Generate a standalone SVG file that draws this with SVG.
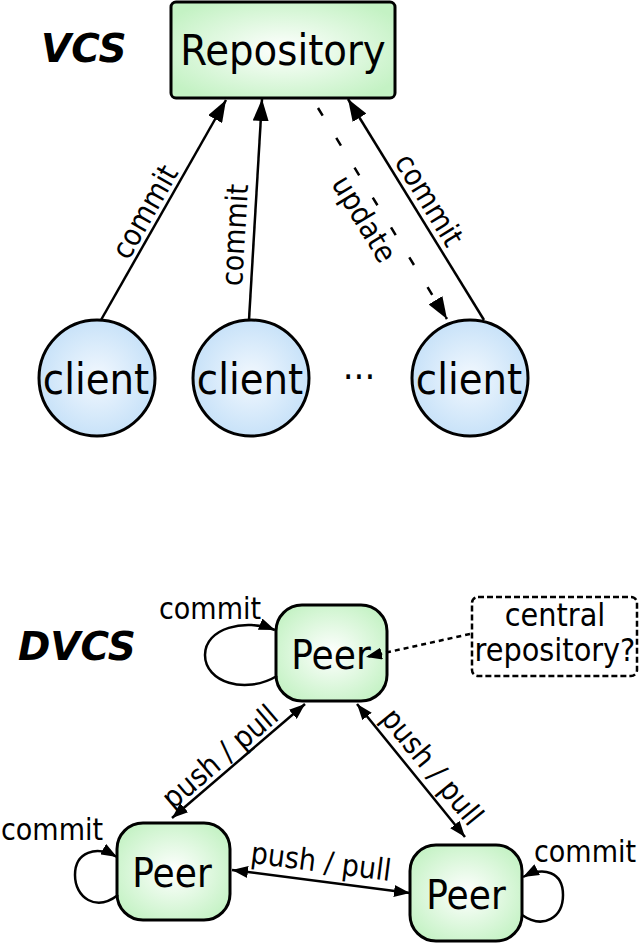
<svg xmlns="http://www.w3.org/2000/svg" width="640" height="944" viewBox="0 0 640 944">
<defs>
<radialGradient id="gGreen" cx="50%" cy="50%" r="60%">
<stop offset="0" stop-color="#ffffff"/>
<stop offset="1" stop-color="#c4f2c4"/>
</radialGradient>
<radialGradient id="gBlue" cx="50%" cy="50%" r="55%">
<stop offset="0" stop-color="#f2f8fe"/>
<stop offset="1" stop-color="#c4e0f8"/>
</radialGradient>
<marker id="arr" markerUnits="userSpaceOnUse" markerWidth="24" markerHeight="16" refX="22" refY="8" orient="auto-start-reverse">
<path d="M0,0 L22,8 L0,16 z" fill="#000"/>
</marker>
<marker id="arrS" markerUnits="userSpaceOnUse" markerWidth="18" markerHeight="12" refX="16" refY="6" orient="auto-start-reverse">
<path d="M0,0 L16,6 L0,12 z" fill="#000"/>
</marker>
</defs>
<style>
text{font-family:"DejaVu Sans Condensed","DejaVu Sans","Liberation Sans",sans-serif;font-stretch:condensed;fill:#000}
.node{stroke:#000;stroke-width:3}
.big{font-size:40px;text-anchor:middle}
.lbl{font-size:30px;text-anchor:middle}
.title{font-family:"DejaVu Sans","Liberation Sans",sans-serif;font-stretch:normal;font-size:39px;font-weight:bold;font-style:italic}
.edge{fill:none;stroke:#000;stroke-width:2.5}
</style>

<text class="title" x="41" y="62">VCS</text>
<text class="title" x="18" y="660">DVCS</text>

<g id="repository">
<rect class="node" x="171" y="2" width="224" height="96" rx="5" fill="url(#gGreen)"/>
<text class="big" x="283" y="65" style="font-size:43px">Repository</text>
</g>
<g id="client1">
<circle class="node" cx="97" cy="378" r="58" fill="url(#gBlue)"/>
<text class="big" x="96" y="394" style="font-size:43px">client</text>
</g>
<g id="client2">
<circle class="node" cx="251" cy="378" r="58" fill="url(#gBlue)"/>
<text class="big" x="250" y="394" style="font-size:43px">client</text>
</g>
<g id="ellipsis">
<text class="big" x="359" y="390" style="font-size:38px">···</text>
</g>
<g id="client3">
<circle class="node" cx="470" cy="378" r="58" fill="url(#gBlue)"/>
<text class="big" x="469" y="394" style="font-size:43px">client</text>
</g>

<g id="peerTop">
<rect class="node" x="276" y="605" width="111" height="96" rx="26" fill="url(#gGreen)"/>
<text class="big" x="331" y="669">Peer</text>
</g>
<g id="peerLeft">
<rect class="node" x="117" y="823" width="113" height="97" rx="26" fill="url(#gGreen)"/>
<text class="big" x="172" y="887">Peer</text>
</g>
<g id="peerRight">
<rect class="node" x="410" y="845" width="112" height="96" rx="26" fill="url(#gGreen)"/>
<text class="big" x="466" y="909">Peer</text>
</g>
<g id="central">
<rect x="472" y="597" width="165" height="79" rx="6" fill="#fff" stroke="#000" stroke-width="2.5" stroke-dasharray="6 3"/>
<text class="lbl" x="555" y="626" style="font-size:32px">central</text>
<text class="lbl" x="555" y="661" style="font-size:32px">repository?</text>
</g>

<g id="connectors">
<line class="edge" x1="101" y1="320" x2="226" y2="100" marker-end="url(#arr)"/>
<line class="edge" x1="249" y1="320" x2="262" y2="99" marker-end="url(#arr)"/>
<line class="edge" x1="484" y1="320" x2="348" y2="99" marker-end="url(#arr)"/>
<line class="edge" x1="318" y1="108" x2="447" y2="319" stroke-dasharray="9 26" marker-end="url(#arr)"/>
<path class="edge" d="M277,676 C245,695 205,682 205,655 C205,628 245,618 275,630" marker-end="url(#arrS)"/>
<path class="edge" d="M118,895 C96,912 75,898 75,875 C75,852 96,845 117,857" marker-end="url(#arrS)"/>
<path class="edge" d="M522,915 C544,930 563,917 563,895 C563,872 544,866 523,877" marker-end="url(#arrS)"/>
<line class="edge" x1="470" y1="634" x2="366" y2="657" stroke-dasharray="5 4" marker-end="url(#arrS)"/>
<line class="edge" x1="172" y1="818" x2="305" y2="704" marker-start="url(#arrS)" marker-end="url(#arrS)"/>
<line class="edge" x1="357" y1="704" x2="465" y2="837" marker-start="url(#arrS)" marker-end="url(#arrS)"/>
<line class="edge" x1="232" y1="870" x2="410" y2="893" marker-start="url(#arrS)" marker-end="url(#arrS)"/>
</g>

<g id="labels">
<text class="lbl" transform="translate(145,212) rotate(-60.4)" y="10">commit</text>
<text class="lbl" transform="translate(235,235) rotate(-86.6)" y="10">commit</text>
<text class="lbl" transform="translate(429,200) rotate(58.5)" y="10">commit</text>
<text class="lbl" transform="translate(364,219) rotate(58.8)" y="10">update</text>
<text class="lbl" x="210" y="619">commit</text>
<text class="lbl" x="52" y="840">commit</text>
<text class="lbl" x="585" y="862">commit</text>
<text class="lbl" transform="translate(220,757) rotate(-40.4)" y="10">push / pull</text>
<text class="lbl" transform="translate(432,767) rotate(50.7)" y="10">push / pull</text>
<text class="lbl" transform="translate(321,862) rotate(7.4)" y="10">push / pull</text>
</g>
</svg>
